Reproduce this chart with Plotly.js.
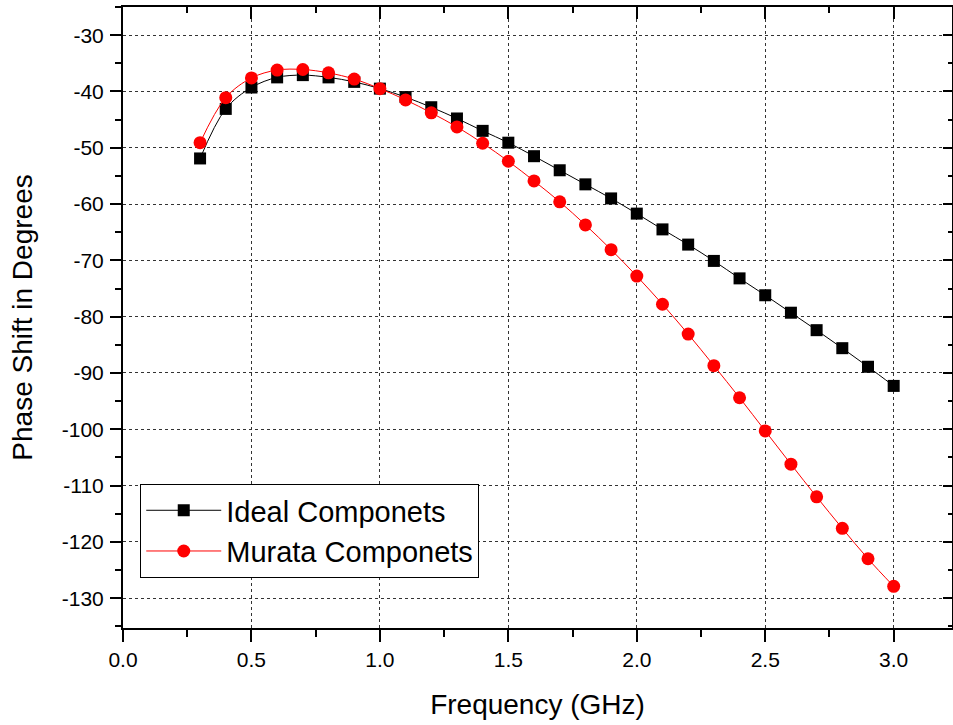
<!DOCTYPE html>
<html>
<head>
<meta charset="utf-8">
<script src="https://cdn.plot.ly/plotly-3.0.1.min.js"></script>
<style>html,body{margin:0;padding:0;background:#fff;}#chart{width:953px;height:725px;}</style>
</head>
<body>
<div id="chart"></div>
<script>
var frequency = [0.3,0.4,0.5,0.6,0.7,0.8,0.9,1.0,1.1,1.2,1.3,1.4,1.5,1.6,1.7,1.8,1.9,2.0,2.1,2.2,2.3,2.4,2.5,2.6,2.7,2.8,2.9,3.0];
var idealPhase = [-51.9,-43.1,-39.3,-37.5,-37.1,-37.5,-38.3,-39.5,-41.0,-42.8,-44.8,-47.0,-49.1,-51.5,-54.0,-56.5,-59.0,-61.7,-64.5,-67.2,-70.1,-73.2,-76.2,-79.3,-82.4,-85.6,-88.9,-92.3];
var murataPhase = [-49.1,-41.1,-37.6,-36.2,-36.1,-36.7,-37.8,-39.5,-41.5,-43.8,-46.3,-49.2,-52.4,-55.9,-59.6,-63.7,-68.1,-72.8,-77.8,-83.1,-88.7,-94.4,-100.3,-106.2,-112.0,-117.6,-123.0,-127.9];
var seriesNames = ["Ideal Componets", "Murata Componets"];
var yTickVals = [-130,-120,-110,-100,-90,-80,-70,-60,-50,-40,-30];
var yTickText = ["-130","-120","-110","-100","-90","-80","-70","-60","-50","-40","-30"];
var xTitle = "Frequency (GHz)";
var yTitle = "Phase Shift in Degrees";

var FONT = "Arial, 'Liberation Sans', sans-serif";
var xRange = [0, 3.227];
var yRange = [-135.3, -25.0];

var traces = [
  {x: frequency, y: idealPhase, name: seriesNames[0], type: "scatter", mode: "lines+markers",
   line: {color: "#000000", width: 1, shape: "spline"},
   marker: {symbol: "square", size: 12, color: "#000000"}},
  {x: frequency, y: murataPhase, name: seriesNames[1], type: "scatter", mode: "lines+markers",
   line: {color: "#ff0000", width: 1, shape: "spline"},
   marker: {symbol: "circle", size: 13, color: "#ff0000"}},
  {x: [], y: [], xaxis: "x2", yaxis: "y2", showlegend: false, hoverinfo: "skip", type: "scatter"}
];

var layout = {
  width: 953, height: 725,
  margin: {l: 123, r: 1, t: 7, b: 97},
  paper_bgcolor: "#ffffff", plot_bgcolor: "#ffffff",
  font: {family: FONT, color: "#000000"},
  showlegend: true,
  legend: {
    x: 0.0208, y: 0.232, xanchor: "left", yanchor: "top",
    bgcolor: "#ffffff", bordercolor: "#000000", borderwidth: 1,
    font: {family: FONT, size: 29, color: "#000000"},
    itemwidth: 75, tracegroupgap: 0
  },
  xaxis: {
    range: xRange, dtick: 0.5, tick0: 0, tickformat: ".1f",
    showline: true, linecolor: "#000000", linewidth: 2,
    ticks: "outside", ticklen: 12, tickwidth: 2, tickcolor: "#000000",
    minor: {dtick: 0.25, ticks: "outside", ticklen: 7, tickwidth: 2, tickcolor: "#000000", showgrid: false},
    showgrid: true, gridcolor: "#333333", gridwidth: 1, griddash: "dot",
    zeroline: false,
    tickfont: {family: FONT, size: 21, color: "#000000"},
    title: {text: xTitle, font: {family: FONT, size: 28, color: "#000000"}, standoff: 24}
  },
  yaxis: {
    range: yRange, tickmode: "array", tickvals: yTickVals, ticktext: yTickText,
    showline: true, linecolor: "#000000", linewidth: 2,
    ticks: "outside", ticklen: 11, tickwidth: 2, tickcolor: "#000000",
    minor: {dtick: 5, tick0: 0, ticks: "outside", ticklen: 6, tickwidth: 2, tickcolor: "#000000", showgrid: false},
    showgrid: true, gridcolor: "#333333", gridwidth: 1, griddash: "dot",
    zeroline: false,
    ticklabelstandoff: 2,
    tickfont: {family: FONT, size: 21, color: "#000000"},
    title: {text: yTitle, font: {family: FONT, size: 28, color: "#000000"}, standoff: 21}
  },
  xaxis2: {
    overlaying: "x", side: "top", anchor: "y2", range: xRange, dtick: 0.5, tick0: 0,
    showline: true, linecolor: "#000000", linewidth: 2,
    ticks: "inside", ticklen: 12, tickwidth: 2, tickcolor: "#000000",
    minor: {dtick: 0.25, ticks: "inside", ticklen: 6, tickwidth: 2, tickcolor: "#000000", showgrid: false},
    showticklabels: false, showgrid: false, zeroline: false
  },
  yaxis2: {
    overlaying: "y", side: "right", anchor: "x2", range: yRange, dtick: 10, tick0: 0,
    showline: true, linecolor: "#000000", linewidth: 2,
    ticks: "inside", ticklen: 9, tickwidth: 2, tickcolor: "#000000",
    minor: {dtick: 5, ticks: "inside", ticklen: 4, tickwidth: 2, tickcolor: "#000000", showgrid: false},
    showticklabels: false, showgrid: false, zeroline: false
  }
};

Plotly.newPlot("chart", traces, layout, {displayModeBar: false, staticPlot: true});
</script>
</body>
</html>
